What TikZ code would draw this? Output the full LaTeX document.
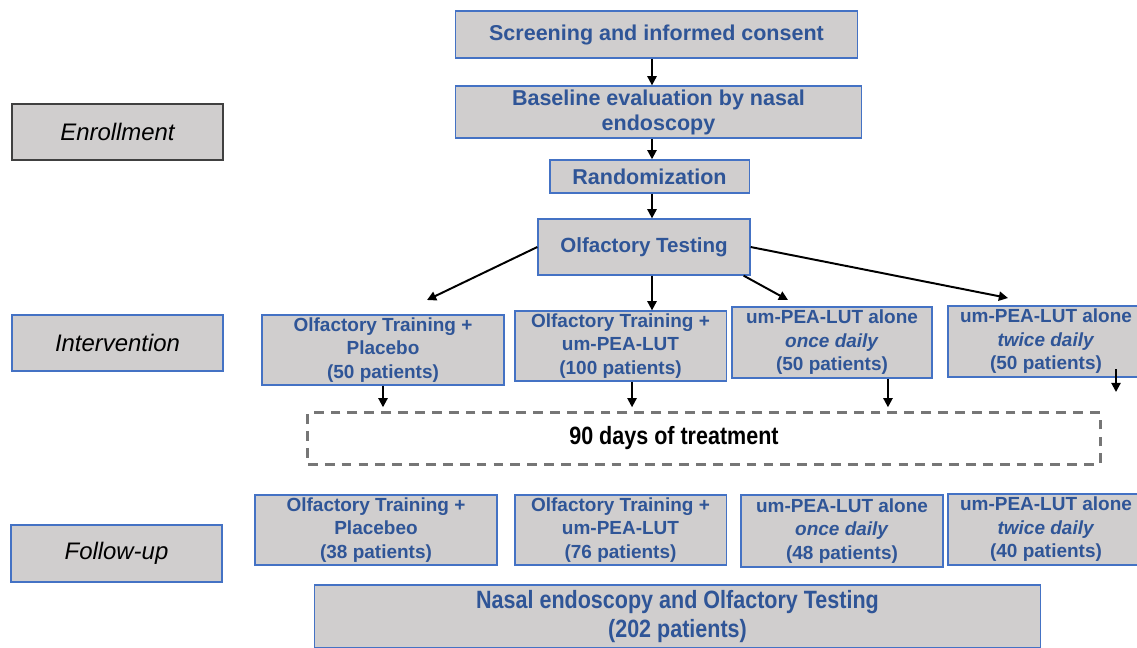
\documentclass[tikz,border=0pt]{standalone}
\usepackage{fontspec}
\setmainfont{Liberation Sans}
\newfontfamily\narrowfont[FakeStretch=0.86]{Liberation Sans}
\usepackage{tikz}
\usetikzlibrary{positioning,arrows.meta}
\usepackage{xcolor}
\definecolor{boxgray}{RGB}{208,206,206}
\definecolor{boxblue}{RGB}{68,114,196}
\definecolor{textblue}{RGB}{47,85,151}
\definecolor{dashgray}{RGB}{118,118,118}
\definecolor{labeldark}{RGB}{64,64,64}

\tikzset{
  stagebox/.style={draw=boxblue,fill=boxgray,line width=0.9pt,text=textblue,
                   font=\bfseries\fontsize{15.3}{17.8}\selectfont,
                   align=center,inner sep=0pt},
  armbox/.style={stagebox,font=\bfseries\fontsize{13.5}{16.7}\selectfont},
  phasebox/.style={draw=boxblue,fill=boxgray,line width=0.9pt,text=black,
                   font=\itshape\fontsize{17}{20}\selectfont,
                   minimum width=5.28cm,minimum height=1.4cm,inner sep=0pt},
  flow/.style={-{Triangle[width=6.5pt,length=6.5pt]},line width=1.4pt,black},
}

\begin{document}
\begin{tikzpicture}[x=0.025cm,y=-0.025cm]
  \useasboundingbox (0,0) rectangle (1137,647);

  % phase labels
  \node[phasebox,draw=labeldark] (enroll) at (117.5,132) {Enrollment};
  \node[phasebox] (interv) at (117.5,343) {Intervention};
  \node[phasebox,minimum height=1.43cm] (follow) at (116.5,553.5) {Follow-up};

  % enrollment steps
  \node[stagebox,minimum width=10.03cm,minimum height=1.18cm]
    (screen) at (656.5,34.5) {Screening and informed consent};
  \node[stagebox,minimum width=10.13cm,minimum height=1.30cm]
    (baseline) at (658.5,112) {Baseline evaluation by nasal\\endoscopy};
  \node[stagebox,minimum width=4.98cm,minimum height=0.83cm]
    (random) at (649.5,176.5) {Randomization};
  \node[stagebox,minimum width=5.30cm,minimum height=1.40cm,
        font=\bfseries\fontsize{14.6}{17}\selectfont]
    (olftest) at (644,247) {Olfactory Testing};

  % intervention arms
  \node[armbox,minimum width=6.05cm,minimum height=1.75cm]
    (ip) at (383,350) {Olfactory Training +\\Placebo\\(50 patients)};
  \node[armbox,minimum width=5.28cm,minimum height=1.75cm]
    (iu) at (620.5,346) {Olfactory Training +\\um-PEA-LUT\\(100 patients)};
  \node[armbox,minimum width=5.00cm,minimum height=1.78cm]
    (io) at (832,342.5) {um-PEA-LUT alone\\\textit{once daily}\\(50 patients)};
  \node[armbox,minimum width=4.90cm,minimum height=1.78cm]
    (it) at (1046,341.5) {um-PEA-LUT alone\\\textit{twice daily}\\(50 patients)};

  \node[draw=dashgray,line width=2pt,dash pattern=on 7pt off 5pt,
        minimum width=19.8cm,minimum height=1.28cm,
        font=\narrowfont\bfseries\fontsize{17.8}{20}\selectfont]
    (treat) at (704,438.5) {90 days of treatment\hspace*{1.5cm}};

  % follow-up arms
  \node[armbox,minimum width=6.05cm,minimum height=1.75cm]
    (fp) at (376,530) {Olfactory Training +\\Placebeo\\(38 patients)};
  \node[armbox,minimum width=5.28cm,minimum height=1.75cm]
    (fu) at (620.5,530) {Olfactory Training +\\um-PEA-LUT\\(76 patients)};
  \node[armbox,minimum width=5.05cm,minimum height=1.80cm]
    (fo) at (842,531) {um-PEA-LUT alone\\\textit{once daily}\\(48 patients)};
  \node[armbox,minimum width=4.90cm,minimum height=1.78cm]
    (ft) at (1046,529.5) {um-PEA-LUT alone\\\textit{twice daily}\\(40 patients)};

  \node[stagebox,minimum width=18.13cm,minimum height=1.58cm,
        font=\narrowfont\bfseries\fontsize{17.8}{21}\selectfont]
    (nasal) at (677.5,616.5) {Nasal endoscopy and Olfactory Testing\\(202 patients)};

  % arrows
  \coordinate (spine) at (652,0);
  \coordinate (ipin) at (427,300);
  \coordinate (ioin) at (788,300);
  \coordinate (itin) at (1008,298);
  \coordinate (tend) at (1116,392);

  \draw[flow] (screen.south -| spine) -- (baseline.north -| spine);
  \draw[flow] (baseline.south -| spine) -- (random.north -| spine);
  \draw[flow] (random.south -| spine) -- (olftest.north -| spine);

  \draw[flow] (olftest.west) -- (ipin);
  \draw[flow] (olftest.south -| spine) -- (iu.north -| spine);
  \draw[flow] ([xshift=-5pt]olftest.south east) -- (ioin);
  \draw[flow] (olftest.east) -- (itin);

  \draw[flow,shorten >=3pt] (ip.south) -- (ip.south |- treat.north);
  \draw[flow,shorten >=3pt] ([xshift=8.2pt]iu.south) -- ([xshift=8.2pt]iu.south |- treat.north);
  \draw[flow,shorten >=3pt] ([xshift=39.8pt]io.south) -- ([xshift=39.8pt]io.south |- treat.north);
  \draw[flow] ([yshift=6pt]tend |- it.south) -- (tend);
\end{tikzpicture}
\end{document}
